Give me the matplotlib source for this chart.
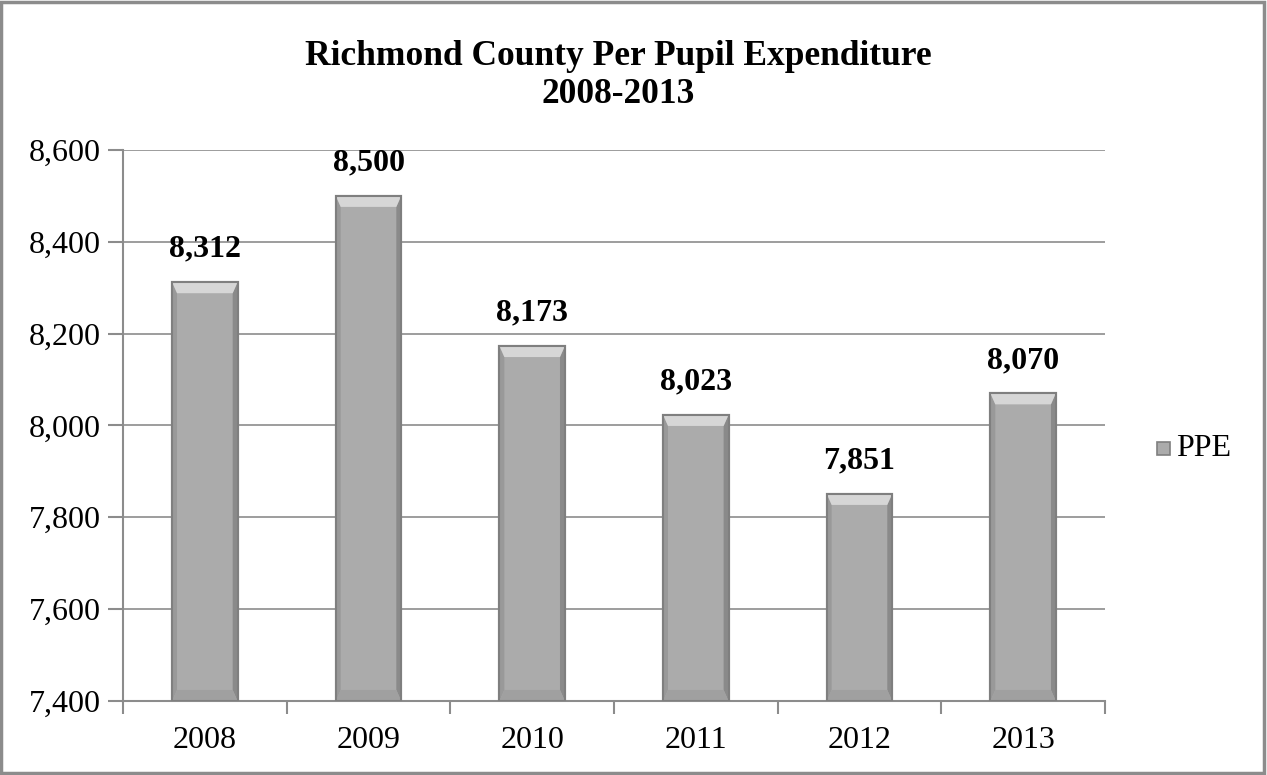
import matplotlib
matplotlib.use("Agg")
import matplotlib.pyplot as plt
from matplotlib.patches import Polygon, Rectangle
from matplotlib.ticker import FixedLocator, FuncFormatter

# ─── Data ────────────────────────────────────────────────────────────────
years = ["2008", "2009", "2010", "2011", "2012", "2013"]
ppe = [8312, 8500, 8173, 8023, 7851, 8070]
y_ticks = [7400, 7600, 7800, 8000, 8200, 8400, 8600]

plt.rcParams["font.family"] = ["Liberation Serif", "DejaVu Serif"]

BAR_FACE = "#ababab"
BAR_EDGE = "#7f7f7f"
GRID = "#8c8c8c"

fig = plt.figure(figsize=(12.67, 7.75), dpi=100)
ax = fig.add_axes([0.0971, 0.0955, 0.775, 0.711])

x = list(range(len(years)))
width = 0.4
base = y_ticks[0]
ax.bar(x, [v - base for v in ppe], bottom=base, width=width,
       color=BAR_FACE, edgecolor=BAR_EDGE, linewidth=1.5, zorder=3)

# bevelled edges on each bar: light top cap, shaded sides and bottom
cap = 24  # value units
inset = 0.03
for xi, v in zip(x, ppe):
    l, r = xi - width / 2, xi + width / 2
    ax.add_patch(Polygon([(l, v), (l + inset, v - cap), (l + inset, base + cap), (l, base)],
                         closed=True, facecolor="#999999", edgecolor="none", zorder=4))
    ax.add_patch(Polygon([(r, v), (r - inset, v - cap), (r - inset, base + cap), (r, base)],
                         closed=True, facecolor="#8a8a8a", edgecolor="none", zorder=4))
    ax.add_patch(Polygon([(l, v), (r, v), (r - inset, v - cap), (l + inset, v - cap)],
                         closed=True, facecolor="#d6d6d6", edgecolor="none", zorder=4))
    ax.add_patch(Polygon([(l, base), (r, base), (r - inset, base + cap), (l + inset, base + cap)],
                         closed=True, facecolor="#a0a0a0", edgecolor="none", zorder=4))
    ax.add_patch(Rectangle((l, base), width, v - base, facecolor="none",
                           edgecolor=BAR_EDGE, linewidth=1.5, zorder=5))
    ax.text(xi, v + 40, f"{v:,}", ha="center", va="bottom",
            fontsize=23, fontweight="bold", zorder=6)

ax.set_xlim(-0.5, len(years) - 0.5)
ax.set_ylim(y_ticks[0], y_ticks[-1])
ax.yaxis.set_major_locator(FixedLocator(y_ticks))
ax.yaxis.set_major_formatter(FuncFormatter(lambda v, _: f"{int(v):,}"))
ax.set_xticks(x)
ax.set_xticklabels(years)
ax.xaxis.set_minor_locator(FixedLocator([i + 0.5 for i in range(-1, len(years))]))

ax.tick_params(axis="x", which="major", length=0, labelsize=23, pad=18)
ax.tick_params(axis="x", which="minor", length=9, color=GRID, width=1.5)
ax.tick_params(axis="y", length=11, color=GRID, width=1.5, labelsize=23, pad=5)

ax.grid(axis="y", color=GRID, linewidth=1.2, zorder=0)
for side in ("top", "right"):
    ax.spines[side].set_visible(False)
for side in ("left", "bottom"):
    ax.spines[side].set_color(GRID)
    ax.spines[side].set_linewidth(1.5)

fig.text(0.488, 0.902, "Richmond County Per Pupil Expenditure\n2008-2013",
         ha="center", va="center", fontsize=25.5, fontweight="bold", linespacing=1.2)

# legend
fig.patches.append(Rectangle((1157 / 1267, 1 - 455 / 775), 13 / 1267, 13 / 775,
                             transform=fig.transFigure, facecolor=BAR_FACE,
                             edgecolor=BAR_EDGE, linewidth=1.2))
fig.text(1176 / 1267, 1 - 448 / 775, "PPE", ha="left", va="center", fontsize=23)

# outer frame
fig.patches.append(Rectangle((0.001, 0.002), 0.997, 0.996, transform=fig.transFigure,
                             facecolor="none", edgecolor="#8c8c8c", linewidth=2.5))

fig.savefig("out.png", dpi=100)
